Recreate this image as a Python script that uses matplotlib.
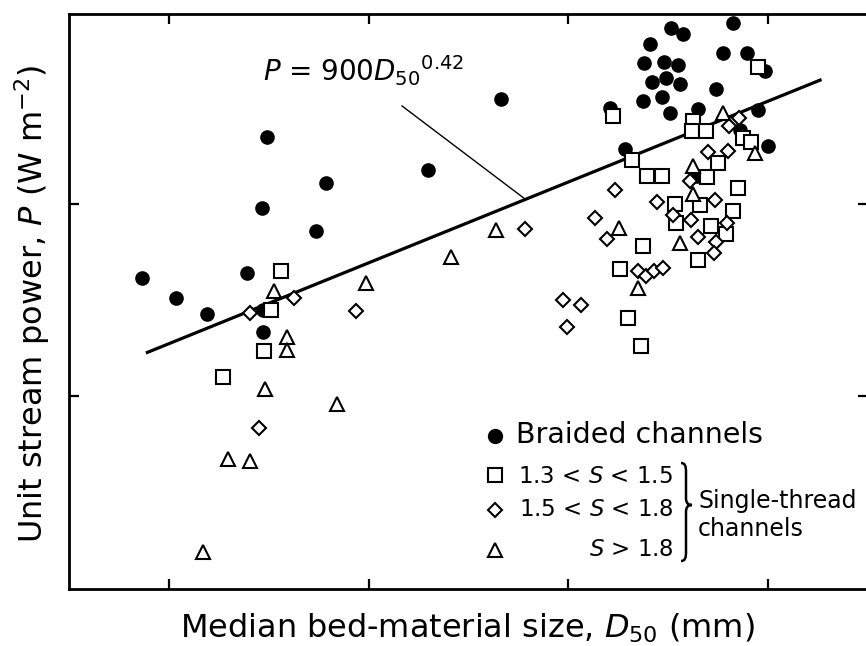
import numpy as np
import matplotlib
matplotlib.use("Agg")
import matplotlib.pyplot as plt
from matplotlib.path import Path
from matplotlib.patches import PathPatch
from matplotlib.transforms import Affine2D
from matplotlib.ticker import NullLocator, FixedLocator

# ---------------- data (D50 in mm, P in W m^-2) ----------------
braided_D = [0.073, 0.109, 0.155, 0.246, 0.296, 0.296, 0.310, 0.293, 0.612, 0.545, 1.98, 4.60,
             32.6, 37.5, 66.7, 25.6, 59.4, 78.4, 96.5, 23.9, 30.1, 35.4, 26.2, 30.8,
             36.2, 54.8, 23.6, 29.4, 32.3, 44.6, 89.0, 16.2, 19.2, 99.9, 72.3, 44.0]
braided_P = [41.3, 32.5, 26.8, 43.8, 21.6, 28.1, 223, 95.3, 128, 72.4, 150, 351,
             821, 764, 871, 678, 609, 609, 491, 540, 547, 527, 430, 451,
             420, 396, 343, 360, 297, 311, 308, 315, 193, 200, 242, 140]

sq_D = [0.364, 0.325, 0.300, 0.187, 16.7, 89.0, 42.1, 41.6, 48.9, 74.8, 82.1, 20.8, 24.7, 29.4,
        49.4, 56.1, 70.7, 34.2, 45.6, 34.6, 51.8, 66.7, 61.5, 23.6, 18.1, 44.6, 19.9, 23.1]
sq_P = [44.9, 28.1, 17.2, 12.6, 286, 515, 270, 239, 239, 220, 210, 169, 140, 140,
        138, 163, 121, 100, 98.8, 79.7, 76.9, 91.9, 69.9, 60.5, 45.9, 51.2, 25.6, 18.3]

di_D = [0.255, 0.423, 0.865, 0.283, 6.07, 17.1, 13.6, 15.6, 9.40, 11.6, 9.84, 22.3, 24.5, 26.8,
        29.8, 71.5, 63.7, 50.0, 63.0, 40.6, 27.8, 54.2, 33.4, 41.1, 62.3, 44.6, 54.8, 53.6]
di_P = [27.2, 32.5, 27.8, 6.86, 74.2, 118, 84.6, 65.8, 31.7, 29.9, 23.0, 44.9, 42.3, 44.9,
        46.5, 280, 254, 186, 188, 132, 102, 105, 87.7, 82.6, 79.7, 67.4, 63.5, 55.7]

tr_D = [0.336, 0.390, 0.390, 0.303, 0.695, 0.198, 0.255, 0.148, 0.970, 2.58, 4.34, 17.9,
        22.3, 36.2, 59.4, 86.0, 42.1, 42.1]
tr_P = [35.3, 20.4, 17.4, 10.9, 9.14, 4.74, 4.62, 1.56, 38.9, 53.0, 73.3, 75.0,
        36.6, 62.7, 297, 184, 158, 113]

fit_coef = 900.0
fit_exp = 0.42
fit_D_range = [0.078, 182.0]        # mm
leader_start = (1.47, 323.0)       # annotation leader start (D mm, P)
leader_end_D = 6.1

legend_labels = ["Braided channels", "1.3 < $S$ < 1.5", "1.5 < $S$ < 1.8", "$S$ > 1.8"]
group_label = "Single-thread\nchannels"

# ---------------- figure ----------------
W, H = 866, 646
plt.rcParams['font.family'] = ['DejaVu Sans']
plt.rcParams['mathtext.fontset'] = 'dejavusans'
fig = plt.figure(figsize=(W / 100, H / 100), dpi=100)
ax = fig.add_axes([69 / W, 57 / H, 799 / W, 575 / H])
ax.set_xscale('log')
ax.set_yscale('log')
ax.set_xlim(10 ** -1.5, 10 ** 2.5)
ax.set_ylim(1.0, 10 ** 2.987)

for s in ax.spines.values():
    s.set_linewidth(2.0)
ax.xaxis.set_major_locator(FixedLocator([0.1, 1, 10, 100]))
ax.yaxis.set_major_locator(FixedLocator([10, 100]))
ax.xaxis.set_minor_locator(NullLocator())
ax.yaxis.set_minor_locator(NullLocator())
ax.tick_params(which='major', direction='in', length=7, width=1.6, top=True, right=True,
               labelbottom=False, labelleft=False)

# fit line
Dl = np.array(fit_D_range)
ax.plot(Dl, fit_coef * (Dl / 1000.0) ** fit_exp, color='black', lw=2.3, zorder=2)
# leader line
ax.plot([leader_start[0], leader_end_D],
        [leader_start[1], fit_coef * (leader_end_D / 1000.0) ** fit_exp],
        color='black', lw=1.0, zorder=2)

mew = 1.5
ms_c, ms_s, ms_d, ms_t = 9.5, 10, 7.6, 10.2
ax.plot(braided_D, braided_P, 'o', ms=ms_c, mfc='black', mec='black', zorder=3, clip_on=False)
ax.plot(sq_D, sq_P, 's', ms=ms_s, mfc='white', mec='black', mew=mew, zorder=4)
ax.plot(di_D, di_P, 'D', ms=ms_d, mfc='white', mec='black', mew=mew, zorder=4)
ax.plot(tr_D, tr_P, '^', ms=ms_t, mfc='white', mec='black', mew=mew, zorder=4)

# ---------------- text ----------------
def fx(x):
    return x / W

def fy(y):
    return 1 - y / H

fig.text(fx(467), fy(638), "Median bed-material size, $D_{50}$ (mm)", fontsize=23,
         ha='center', va='baseline')
fig.text(fx(43), fy(304), "Unit stream power, $P$ (W m$^{-2}$)", fontsize=23,
         rotation=90, rotation_mode='anchor', ha='center', va='baseline')
fig.text(fx(263), fy(81), "$P$ = 900$D_{50}{}^{0.42}$", fontsize=20,
         ha='left', va='baseline')

# legend
mk = dict(transform=fig.transFigure, clip_on=False, mec='black', mew=mew)
ax.plot([fx(495)], [fy(436)], 'o', ms=ms_c, mfc='black', **mk)
ax.plot([fx(495)], [fy(475)], 's', ms=ms_s - 0.5, mfc='white', **mk)
ax.plot([fx(495)], [fy(510)], 'D', ms=ms_d - 0.4, mfc='white', **mk)
ax.plot([fx(495)], [fy(550)], '^', ms=ms_t - 0.5, mfc='white', **mk)
fig.text(fx(516), fy(443), legend_labels[0], fontsize=20.5, ha='left', va='baseline')
fig.text(fx(673), fy(483), legend_labels[1], fontsize=16.5, ha='right', va='baseline')
fig.text(fx(673), fy(516), legend_labels[2], fontsize=16.5, ha='right', va='baseline')
fig.text(fx(673), fy(556), legend_labels[3], fontsize=16.5, ha='right', va='baseline')
fig.text(fx(698), fy(508), group_label.split("\n")[0], fontsize=17, ha='left', va='baseline')
fig.text(fx(698), fy(536), group_label.split("\n")[1], fontsize=17, ha='left', va='baseline')

# brace
x0, xm, xt = 681, 686, 692
yt, ymid, yb = 463, 505, 561
verts = [(x0, yt), (x0 + 4, yt), (xm, yt + 3), (xm, yt + 9),
         (xm, ymid - 7),
         (xm, ymid - 2), (xm + 2, ymid), (xt, ymid),
         (xm + 2, ymid), (xm, ymid + 2), (xm, ymid + 7),
         (xm, yb - 9),
         (xm, yb - 3), (x0 + 4, yb), (x0, yb)]
codes = [Path.MOVETO, Path.CURVE4, Path.CURVE4, Path.CURVE4,
         Path.LINETO,
         Path.CURVE4, Path.CURVE4, Path.CURVE4,
         Path.CURVE4, Path.CURVE4, Path.CURVE4,
         Path.LINETO,
         Path.CURVE4, Path.CURVE4, Path.CURVE4]
pix2fig = Affine2D().scale(1 / W, -1 / H).translate(0, 1) + fig.transFigure
brace = PathPatch(Path(verts, codes), fc='none', ec='black', lw=1.8, transform=pix2fig)
fig.add_artist(brace)

fig.savefig("out.png", dpi=100)
